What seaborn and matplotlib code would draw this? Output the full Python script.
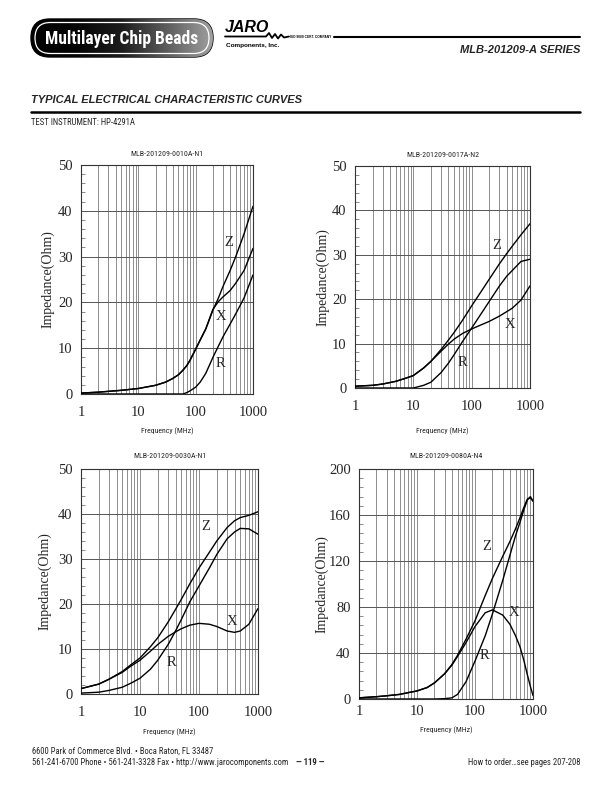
import os
import numpy as np
import pandas as pd
import matplotlib
matplotlib.use("Agg")
import matplotlib.pyplot as plt
import seaborn as sns
from matplotlib import font_manager as fm
from matplotlib.font_manager import FontProperties
from matplotlib.patches import FancyBboxPatch
from matplotlib.colors import LinearSegmentedColormap
from matplotlib.ticker import LogLocator, MultipleLocator, NullFormatter

# ---------------- data ----------------
titles = ["MLB-201209-0010A-N1", "MLB-201209-0017A-N2",
          "MLB-201209-0030A-N1", "MLB-201209-0080A-N4"]
x_ticks = [1, 10, 100, 1000]
x_tick_labels = ["1", "10", "100", "1000"]

f1 = [1, 2, 5, 10, 20, 30, 40, 50, 60, 70, 80, 100, 120, 150, 200, 250, 300, 400, 500, 700, 1000]
Z1 = [0.2, 0.4, 0.8, 1.2, 1.9, 2.6, 3.4, 4.2, 5.2, 6.2, 7.4, 9.8, 11.8, 14.2, 18.3, 21.0, 23.5, 27.0, 30.0, 35.0, 41.0]
X1 = [0.2, 0.4, 0.8, 1.2, 1.9, 2.6, 3.4, 4.2, 5.2, 6.2, 7.4, 9.8, 11.8, 14.2, 18.5, 20.2, 21.2, 22.6, 24.2, 27.0, 31.8]
R1 = [0, 0, 0, 0, 0, 0, 0, 0, 0, 0.3, 0.7, 1.5, 2.6, 4.5, 8.0, 10.5, 12.5, 15.3, 17.5, 21.0, 26.0]

f2 = [1, 2, 3, 5, 7, 10, 15, 20, 30, 40, 50, 70, 100, 150, 200, 300, 400, 500, 700, 1000]
Z2 = [0.4, 0.6, 0.9, 1.5, 2.1, 2.8, 4.5, 6.0, 8.7, 10.8, 12.5, 15.3, 18.5, 22.0, 24.5, 28.0, 30.3, 32.0, 34.5, 37.0]
X2 = [0.4, 0.6, 0.9, 1.5, 2.1, 2.8, 4.5, 6.0, 8.3, 9.9, 11.0, 12.3, 13.3, 14.3, 15.0, 16.2, 17.2, 18.0, 19.8, 23.0]
R2 = [0, 0, 0, 0, 0, 0, 0.6, 1.3, 3.5, 5.6, 7.5, 10.5, 13.5, 17.0, 19.5, 23.0, 25.2, 26.5, 28.5, 29.0]

f3 = [1, 2, 3, 5, 7, 10, 15, 20, 30, 40, 50, 70, 100, 150, 200, 300, 400, 500, 700, 1000]
Z3 = [1.2, 2.2, 3.3, 5.0, 6.5, 8.0, 10.5, 12.5, 16.0, 18.8, 21.0, 24.5, 28.0, 31.5, 34.0, 37.0, 38.5, 39.2, 39.7, 40.5]
X3 = [1.2, 2.2, 3.3, 4.8, 6.2, 7.5, 9.5, 11.0, 12.8, 13.8, 14.5, 15.3, 15.7, 15.5, 15.0, 14.0, 13.7, 14.0, 15.5, 19.0]
R3 = [0.2, 0.4, 0.8, 1.5, 2.4, 3.5, 5.5, 7.5, 11.0, 14.0, 16.5, 20.5, 24.0, 28.0, 31.0, 34.5, 36.0, 36.8, 36.7, 35.5]

f4 = [1, 2, 3, 5, 7, 10, 15, 20, 30, 40, 50, 70, 100, 150, 200, 300, 400, 500, 600, 700, 800, 900, 1000]
Z4 = [1, 2, 2.8, 4, 5.5, 7, 10, 14, 22, 30, 38, 52, 68, 90, 105, 124, 137, 148, 158, 167, 174, 175, 172]
X4 = [1, 2, 2.8, 4, 5.5, 7, 10, 14, 22, 29.5, 37, 49, 63, 75, 77.5, 73, 65, 55, 45, 33, 21, 11, 3]
R4 = [0, 0, 0, 0, 0, 0, 0, 0, 0.3, 1, 4, 15, 33, 55, 74, 103, 125, 142, 154, 165, 173, 176, 172]

# curve label positions (freq, value)
lab1 = {"Z": (377, 33), "X": (274, 17), "R": (270, 6.7)}
lab2 = {"Z": (269, 32), "X": (454, 14.4), "R": (69, 5.8)}
lab3 = {"Z": (131, 37.3), "X": (363, 16.1), "R": (33.5, 6.9)}
lab4 = {"Z": (159, 133), "X": (470, 75), "R": (145, 38)}

# ---------------- fonts ----------------
sns.set_theme(style="white")
plt.rcParams['font.family'] = ['Liberation Sans', 'DejaVu Sans']
SERIF = ['Liberation Serif', 'DejaVu Serif']


def narrow_props(bold=False):
    prefs = ['liberation sans narrow', 'roboto condensed', 'open sans condensed',
             'noto sans condensed', 'dejavu sans condensed', 'dejavusanscondensed']
    found = []
    for e in fm.fontManager.ttflist:
        key = (e.name + ' ' + os.path.basename(e.fname)).lower()
        if 'serif' in key.replace('sans', '') or 'mono' in key:
            continue
        is_narrow = ('narrow' in key or 'condensed' in key or
                     e.stretch in ('condensed', 'semi-condensed'))
        if not is_narrow or e.style != 'normal':
            continue
        wt = e.weight if isinstance(e.weight, (int, float)) else fm.weight_dict.get(e.weight, 400)
        if bold and not (600 <= wt <= 800):
            continue
        if not bold and not (400 <= wt <= 500):
            continue
        rank = len(prefs)
        for i, p in enumerate(prefs):
            if p in key:
                rank = i
                break
        found.append((rank, e.fname))
    if found:
        found.sort()
        return FontProperties(fname=found[0][1])
    return FontProperties(family=['Liberation Sans', 'DejaVu Sans'],
                          weight='bold' if bold else 'normal')


NARROW = narrow_props(False)
NARROW_B = narrow_props(True)

# ---------------- figure ----------------
W, H = 612, 792
fig = plt.figure(figsize=(W / 100, H / 100), dpi=100)
fig.patch.set_facecolor("white")
renderer = fig.canvas.get_renderer()

bg = fig.add_axes([0, 0, 1, 1], zorder=-5)
bg.set_xlim(0, W)
bg.set_ylim(H, 0)
bg.axis('off')


def fx(x):
    return x / W


def fy(y):
    return 1 - y / H


def fit_text(x, y, s, width, props, ha='left', **kw):
    t = fig.text(fx(x), fy(y), s, fontproperties=props.copy(), ha=ha, va='center', **kw)
    t.set_fontsize(10)
    w = t.get_window_extent(renderer).width
    t.set_fontsize(10 * width / w)
    return t


# header pill
pill = FancyBboxPatch((31, 19), 182, 38, boxstyle="round,pad=0,rounding_size=19",
                      facecolor="black", edgecolor="black", lw=1.0)
bg.add_patch(pill)
cmap = LinearSegmentedColormap.from_list("g", ["#000000", "#050505", "#1c1c1c", "#5e5e5e", "#a0a0a0"])
grad = np.linspace(0, 1, 256).reshape(1, -1)
im = bg.imshow(grad, extent=[31, 213, 57, 19], aspect='auto', cmap=cmap, zorder=1)
im.set_clip_path(pill)
inner = FancyBboxPatch((35, 22.5), 174, 31, boxstyle="round,pad=0,rounding_size=15.5",
                       facecolor="none", edgecolor="white", lw=0.9, zorder=2)
bg.add_patch(inner)
bg.set_xlim(0, W)
bg.set_ylim(H, 0)
fit_text(122, 38.5, "Multilayer Chip Beads", 154, NARROW_B, ha='center', color='white')

# JARO logo
fig.text(fx(225), fy(27), "JARO", fontsize=11.5, fontweight="bold", style="italic",
         ha="left", va="center", color="black")
bg.plot([225, 266, 269, 272, 275, 278, 281, 284, 289],
        [36.5, 36.5, 33, 38, 34, 38.5, 34.5, 37.5, 36.5], color="black", lw=1.3)
fig.text(fx(226), fy(45), "Components, Inc.", fontsize=4.6, fontweight="bold",
         ha="left", va="center", color="black")
fig.text(fx(290), fy(36.5), "ISO 9000 CERT. COMPANY", fontsize=2.3, fontweight="bold",
         ha="left", va="center", color="black")
bg.plot([334, 580], [36.5, 36.5], color="black", lw=1.5)
fig.text(fx(580), fy(50), "MLB-201209-A SERIES", fontsize=8, fontweight="bold",
         style="italic", ha="right", va="center")

fig.text(fx(31), fy(100), "TYPICAL ELECTRICAL CHARACTERISTIC CURVES", fontsize=8,
         fontweight="bold", style="italic", ha="left", va="center")
bg.plot([31, 580], [112, 112], color="black", lw=1.8)
fit_text(31, 122.5, "TEST INSTRUMENT: HP-4291A", 104, NARROW)

# footer (one common size, fitted on the first line)
t_foot = fit_text(32, 751, "6600 Park of Commerce Blvd. \u2022 Boca Raton, FL 33487", 182, NARROW)
fsz = t_foot.get_fontsize()
p2 = NARROW.copy()
p2.set_size(fsz)
fig.text(fx(32), fy(762.5), "561-241-6700 Phone \u2022 561-241-3328 Fax \u2022 http://www.jarocomponents.com",
         fontproperties=p2, ha='left', va='center')
p3 = NARROW_B.copy()
p3.set_size(fsz)
fig.text(fx(310), fy(762.5), "\u2014 119 \u2014", fontproperties=p3, ha='center', va='center')
fig.text(fx(580), fy(762.5), "How to order\u2026see pages 207-208", fontproperties=p2.copy(),
         ha='right', va='center')


def chart(box, title, f, Z, X, R, ymax, ystep, yminor, labels, tpad, title_y, xlab_y, ylab_x):
    left, top, right, bottom = box
    ax = fig.add_axes([fx(left), fy(bottom), (right - left) / W, (bottom - top) / H])
    n = len(f)
    df = pd.DataFrame({
        "freq": list(f) * 3,
        "imp": list(Z) + list(X) + list(R),
        "curve": ["Z"] * n + ["X"] * n + ["R"] * n,
    })
    sns.lineplot(data=df, x="freq", y="imp", units="curve", estimator=None,
                 color="black", lw=1.0, ax=ax, legend=False, sort=False, zorder=5)
    ax.set_xscale("log")
    ax.set_xlim(1, 1000)
    ax.set_ylim(0, ymax)
    ax.set_facecolor("white")
    ax.set_xticks(x_ticks)
    ax.set_xticklabels(x_tick_labels)
    ax.xaxis.set_minor_locator(LogLocator(base=10, subs=np.arange(2, 10)))
    ax.xaxis.set_minor_formatter(NullFormatter())
    ax.set_yticks(np.arange(0, ymax + 1, ystep))
    ax.yaxis.set_minor_locator(MultipleLocator(yminor))
    ax.grid(True, which="both", axis="x", color="#707070", lw=0.55)
    ax.grid(True, which="major", axis="y", color="#555555", lw=0.7)
    ax.tick_params(axis="both", which="major", length=0, labelsize=10.5)
    ax.tick_params(axis="x", which="major", pad=tpad)
    ax.tick_params(axis="y", which="major", pad=6)
    ax.tick_params(axis="x", which="minor", length=0)
    ax.tick_params(axis="y", which="minor", direction="in", length=3, width=0.6,
                   color="#777777", left=True)
    for lbl in ax.get_xticklabels() + ax.get_yticklabels():
        lbl.set_family(SERIF)
    for sp in ax.spines.values():
        sp.set_visible(True)
        sp.set_color("#333333")
        sp.set_linewidth(0.8)
    ax.set_xlabel("")
    ax.set_ylabel("")
    for name, (lx, ly) in labels.items():
        ax.text(lx, ly, name, family=SERIF, fontsize=10.5, ha="center", va="center", zorder=6)
    cx = (left + right) / 2
    fit_text(cx, title_y, title, 72, NARROW, ha='center')
    fit_text(cx, xlab_y, "Frequency (MHz)", 52, NARROW, ha='center')
    fig.text(fx(ylab_x), fy((top + bottom) / 2), "Impedance(Ohm)", family=SERIF,
             fontsize=10, rotation=90, ha="center", va="center")
    return ax


chart((81, 165, 253, 394), titles[0], f1, Z1, X1, R1, 50, 10, 2, lab1, 9, 154.5, 431, 48)
chart((355, 166, 530, 388), titles[1], f2, Z2, X2, R2, 50, 10, 2, lab2, 9, 155, 431, 323)
chart((81, 469, 258, 694), titles[2], f3, Z3, X3, R3, 50, 10, 2, lab3, 9, 455.5, 732, 45)
chart((359, 469, 533, 699), titles[3], f4, Z4, X4, R4, 200, 40, 8, lab4, 4, 455.5, 730, 322)

fig.savefig("out.png", dpi=100, facecolor="white")
